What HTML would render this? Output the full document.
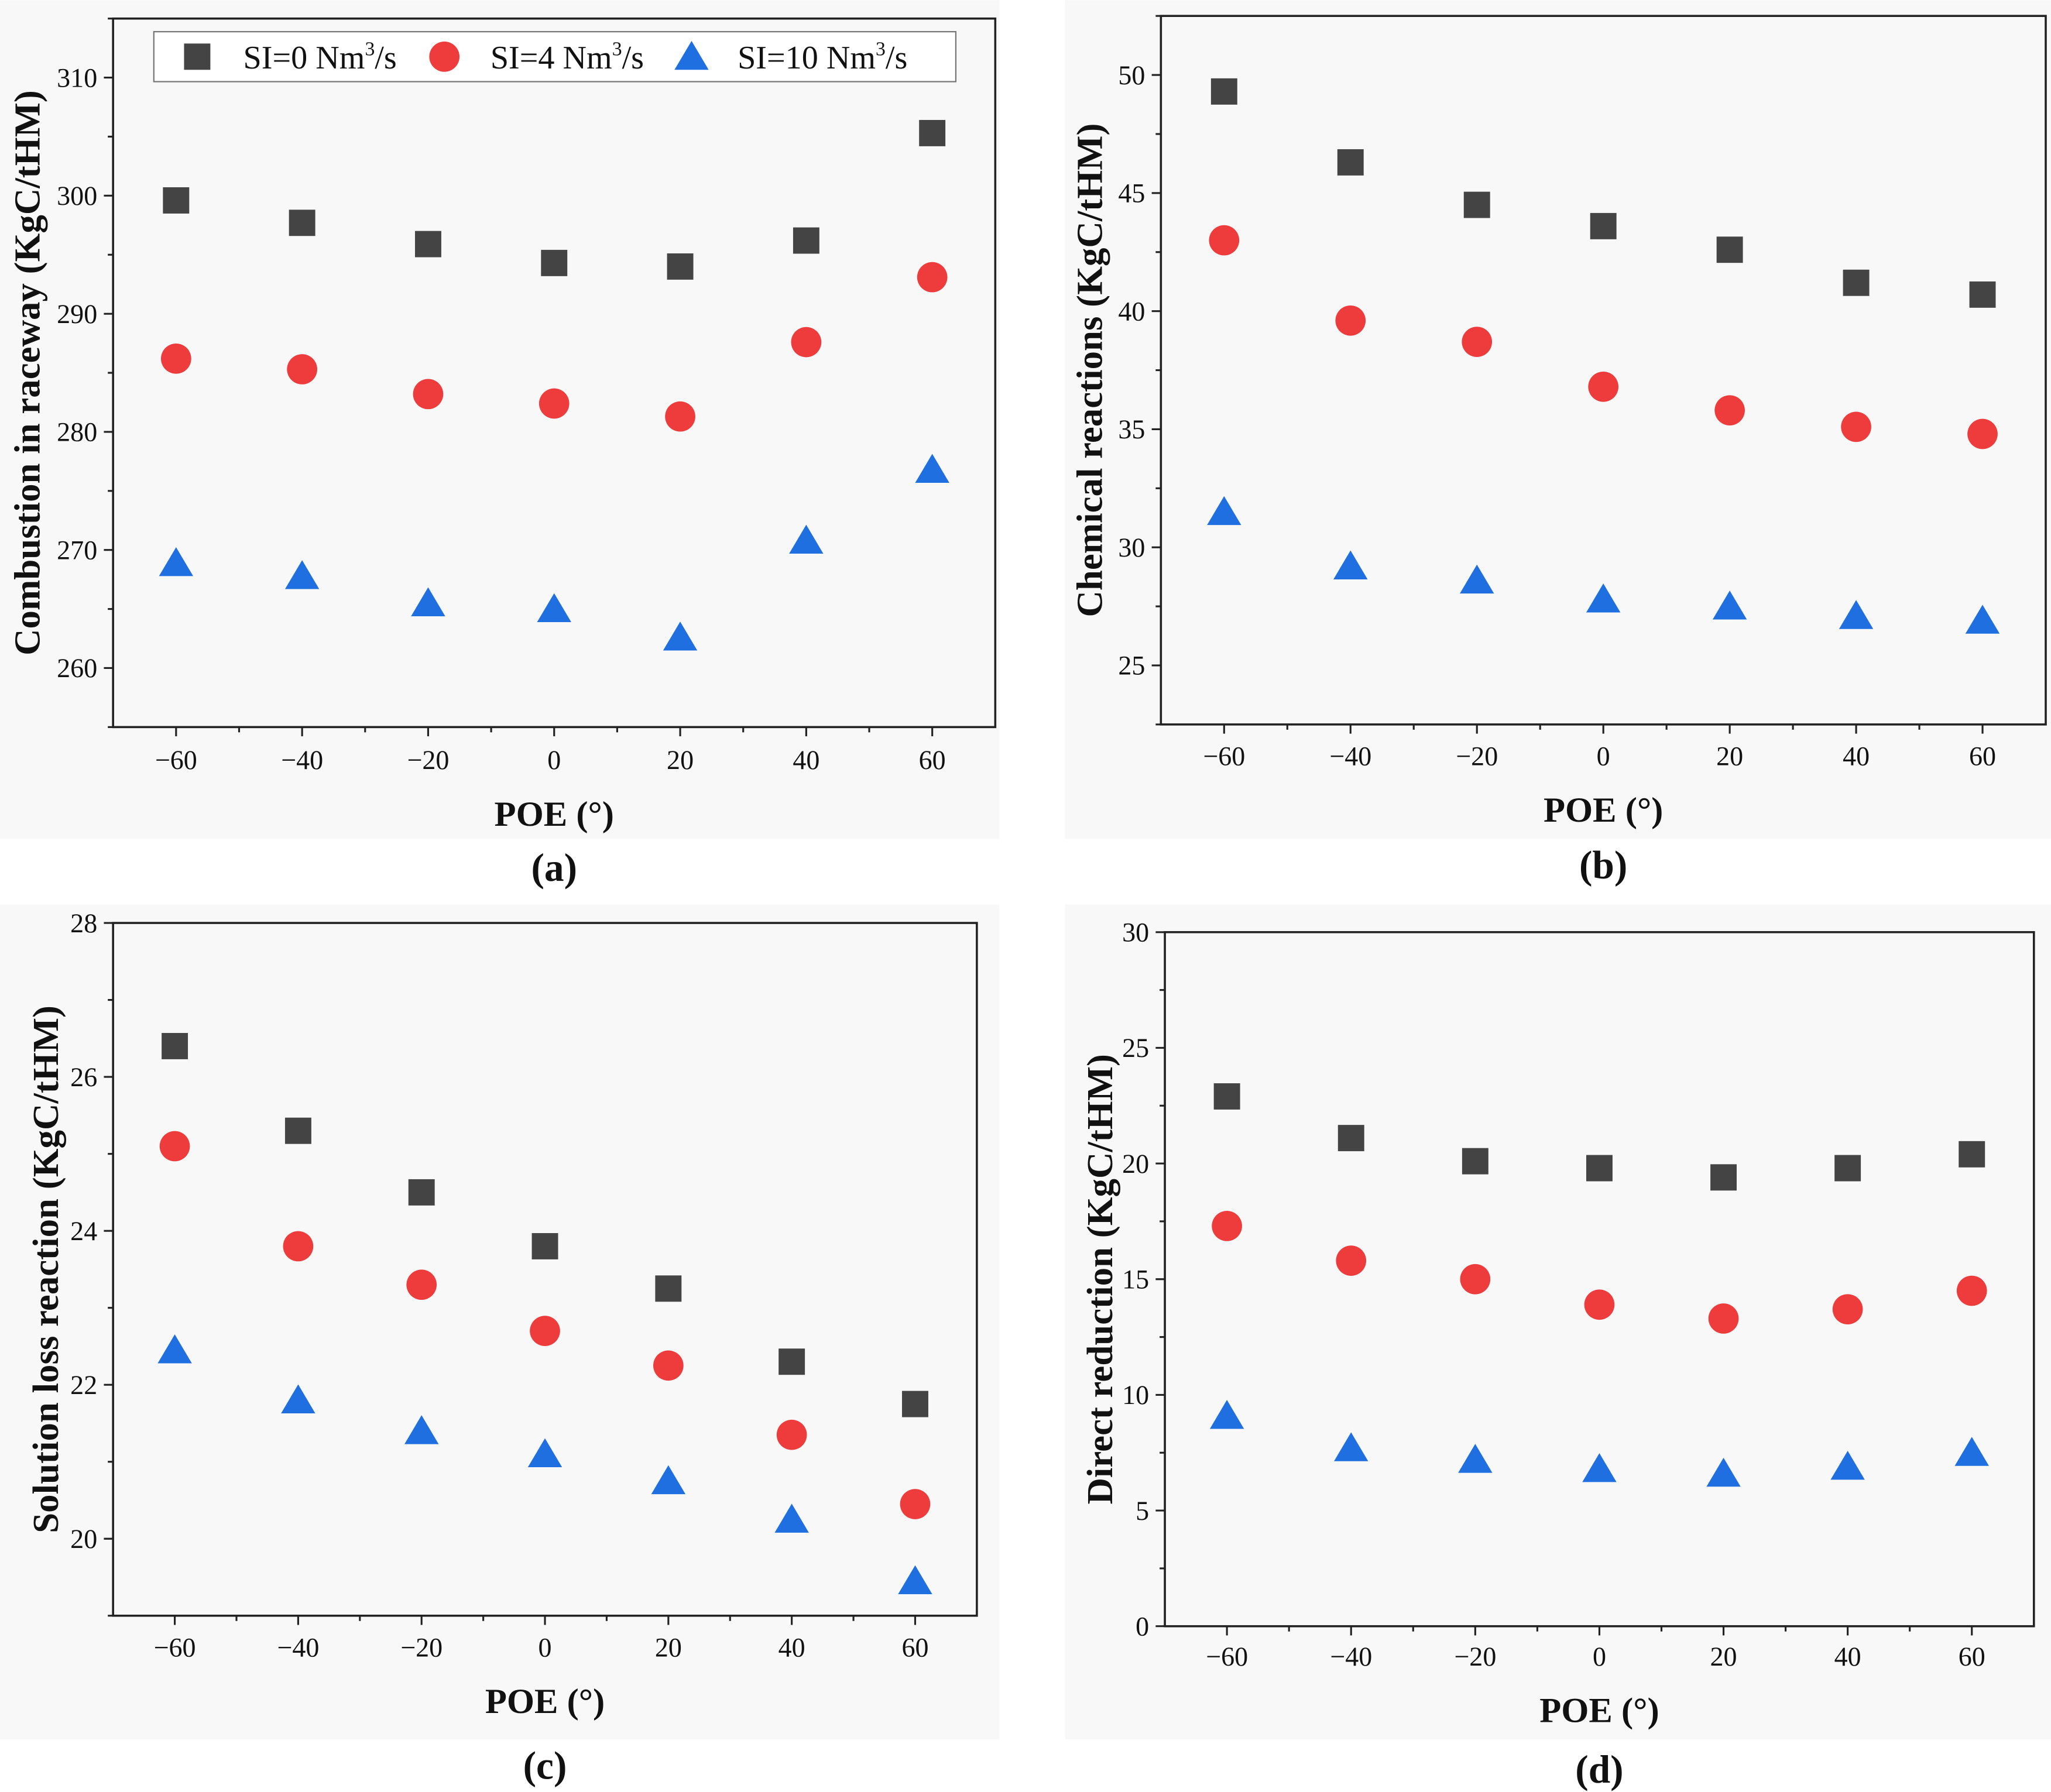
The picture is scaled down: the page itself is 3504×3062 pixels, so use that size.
<!DOCTYPE html>
<html><head><meta charset="utf-8"><style>
html,body{margin:0;padding:0;background:#fff;}
svg{display:block;font-family:"Liberation Serif",serif;}
</style></head><body>
<svg id="fig" width="3504" height="3062" viewBox="0 0 1560 1363" xmlns="http://www.w3.org/2000/svg">
<rect x="0" y="0" width="1560" height="1363" fill="#fff"/>
<rect x="0" y="0" width="760" height="638" fill="#f8f8f8"/>
<rect x="810" y="0" width="750" height="638" fill="#f8f8f8"/>
<rect x="0" y="688" width="760" height="635" fill="#f8f8f8"/>
<rect x="810" y="688" width="750" height="635" fill="#f8f8f8"/>
</svg>
<script>
const xCats = [-60,-40,-20,0,20,40,60];
const xTicks = [-60,-40,-20,0,20,40,60];
const seriesNames = ["SI=0","SI=4","SI=10"];
const aSq = [299.6,297.7,295.9,294.3,294.0,296.2,305.3];
const aCi = [286.2,285.3,283.2,282.4,281.3,287.6,293.1];
const aTr = [268.9,267.8,265.5,265.0,262.6,270.8,276.8];
const aYTicks = [260,270,280,290,300,310];
const bSq = [49.3,46.3,44.5,43.6,42.6,41.2,40.7];
const bCi = [43.0,39.6,38.7,36.8,35.8,35.1,34.8];
const bTr = [31.5,29.2,28.6,27.8,27.5,27.1,26.9];
const bYTicks = [25,30,35,40,45,50];
const cSq = [26.4,25.3,24.5,23.8,23.25,22.3,21.75];
const cCi = [25.1,23.8,23.3,22.7,22.25,21.35,20.45];
const cTr = [22.45,21.8,21.4,21.1,20.75,20.25,19.45];
const cYTicks = [20,22,24,26,28];
const dSq = [22.9,21.1,20.1,19.8,19.4,19.8,20.4];
const dCi = [17.3,15.8,15.0,13.9,13.3,13.7,14.5];
const dTr = [9.1,7.7,7.2,6.8,6.6,6.9,7.5];
const dYTicks = [0,5,10,15,20,25,30];

const NS="http://www.w3.org/2000/svg";
const svg=document.getElementById('fig');
function mk(tag,attrs,parent){const e=document.createElementNS(NS,tag);for(const k in attrs)e.setAttribute(k,attrs[k]);(parent||svg).appendChild(e);return e;}
function txt(parent,x,y,s,size,opts){const t=mk('text',Object.assign({x:x,y:y,'font-size':size,'text-anchor':'middle',fill:'#111'},opts||{}),parent);t.textContent=s;return t;}

function panel(id,L,R,T,B,ymin,ymax,yTicks,yMinorStep,sq,ci,tr,ytitle,ytx,lab,tickY,titleY,labY){
  const g=mk('g',{});
  
  
  const X=v=>L+(v+70)/140*(R-L);
  const Y=v=>B-(v-ymin)/(ymax-ymin)*(B-T);
  const fr=mk('rect',{x:L,y:T,width:R-L,height:B-T,fill:'none',stroke:'#222','stroke-width':1.6},g);
  
  
  for(let v=-60;v<=60;v+=10){
    const major=(v%20===0);
    mk('line',{x1:X(v),x2:X(v),y1:B,y2:B+(major?7:4),stroke:'#222','stroke-width':1.4},g);
  }
  xTicks.forEach(v=>{
    const t=txt(g,X(v),tickY,v<0?'\u2212'+(-v):String(v),20.5);
    
    
  });
  for(let v=ymin;v<=ymax+1e-9;v+=yMinorStep){
    const r=Math.round(v*1000)/1000;
    const major=yTicks.some(t=>Math.abs(t-r)<1e-6);
    if(Y(r)<T-0.5||Y(r)>B+0.5)continue;
    mk('line',{x1:L,x2:L-(major?7:4),y1:Y(r),y2:Y(r),stroke:'#222','stroke-width':1.4},g);
  }
  yTicks.forEach(v=>{
    const t=txt(g,L-12,Y(v)+7,String(v),20.5,{'text-anchor':'end'});
    
    
  });
  const yt=txt(g,0,0,ytitle,28,{'font-weight':'bold',transform:'translate('+ytx+','+((T+B)/2)+') rotate(-90)'});
  
  
  const xt=txt(g,(L+R)/2,titleY,'POE (\u00b0)',27,{'font-weight':'bold'});
  
  
  const pl=txt(g,(L+R)/2,labY,lab,30,{'font-weight':'bold'});
  
  
  xCats.forEach((c,i)=>{
    const s=mk('rect',{x:X(c)-10,y:Y(sq[i])-10,width:20,height:20,fill:'#444'},g);
    
    
    const o=mk('circle',{cx:X(c),cy:Y(ci[i]),r:11.5,fill:'#ee3b3b'},g);
    
    
    const cx=X(c),cy=Y(tr[i]);
    const p=mk('polygon',{points:(cx-13)+','+(cy+10)+' '+(cx+13)+','+(cy+10)+' '+cx+','+(cy-12),fill:'#1f6fe0'},g);
    
    
  });
  return g;
}

panel('a',86,757,14,553,255,315,aYTicks,5,aSq,aCi,aTr,'Combustion in raceway (KgC/tHM)',30,'(a)',585,628,670);
panel('b',883,1556,12,551,22.5,52.5,bYTicks,2.5,bSq,bCi,bTr,'Chemical reactions (KgC/tHM)',838,'(b)',582,625,668);
panel('c',86,743,702,1229,19,28,cYTicks,1,cSq,cCi,cTr,'Solution loss reaction (KgC/tHM)',44,'(c)',1260,1303,1353);
panel('d',886,1547,709,1237,0,30,dYTicks,2.5,dSq,dCi,dTr,'Direct reduction (KgC/tHM)',846,'(d)',1267,1310,1356);

const lg=mk('g',{});


mk('rect',{x:117,y:24,width:610,height:38,fill:'#fff',stroke:'#777','stroke-width':1},lg);
const lx=[150,338,526];
mk('rect',{x:lx[0]-10,y:33,width:20,height:20,fill:'#444'},lg);
mk('circle',{cx:lx[1],cy:43,r:11.5,fill:'#ee3b3b'},lg);
mk('polygon',{points:(lx[2]-13)+',53 '+(lx[2]+13)+',53 '+lx[2]+',31',fill:'#1f6fe0'},lg);
const labs=['SI=0 Nm','SI=4 Nm','SI=10 Nm'];
labs.forEach((s,i)=>{
  const t=mk('text',{x:lx[i]+35,y:52,'font-size':25,fill:'#111'},lg);
  
  
  t.appendChild(document.createTextNode(s));
  const sup=mk('tspan',{'font-size':15,dy:-10},t);sup.textContent='3';
  const r=mk('tspan',{dy:10},t);r.textContent='/s';
});
</script>
</body></html>
